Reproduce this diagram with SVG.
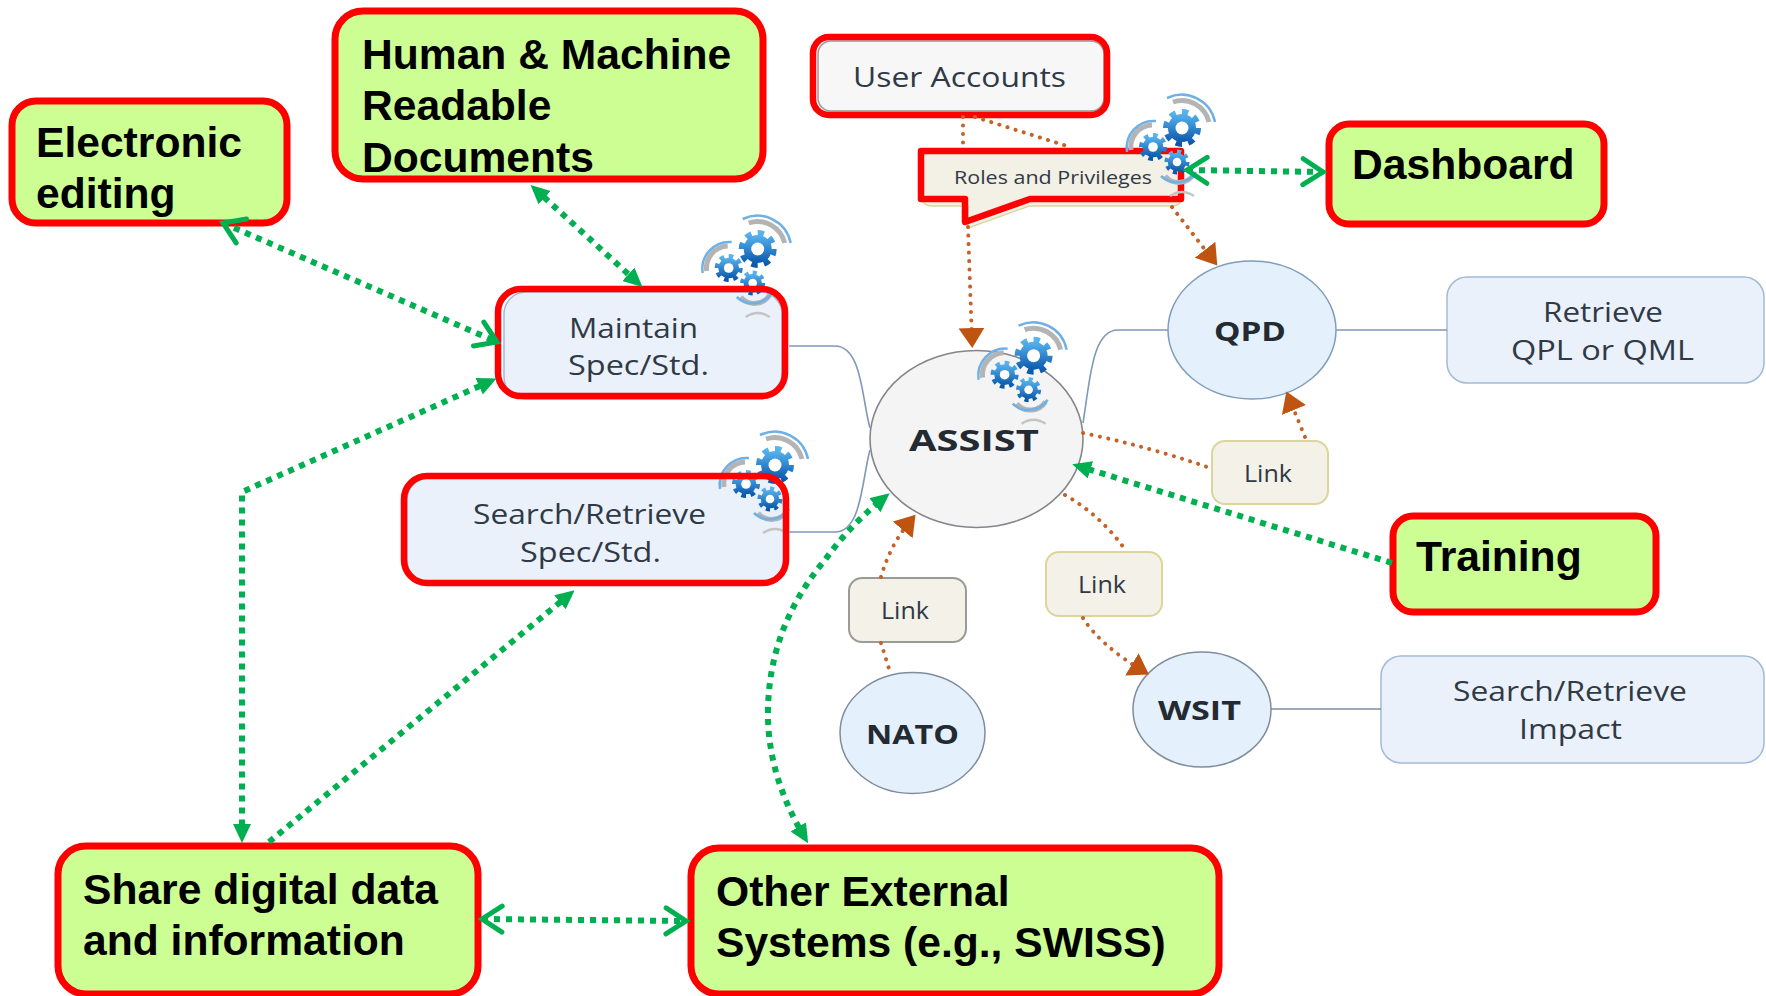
<svg xmlns="http://www.w3.org/2000/svg" width="1766" height="996" viewBox="0 0 1766 996">
<style>
.g{fill:#ccfe93;stroke:#ff0000;stroke-width:7}
.r{fill:none;stroke:#ff0000;stroke-width:6.5}
.b{font:bold 42.6px "Liberation Sans",Arial,sans-serif;fill:#000}
.t{font-family:"Open Sans","Noto Sans",sans-serif;fill:#2f3a46}
.h{font-family:"Open Sans","Noto Sans",sans-serif;font-weight:700;fill:#232a32}
.blue{fill:#eaf1fa;stroke:#a3bad6;stroke-width:1.5}
.circ{fill:#e4f0fc;stroke:#7f8c9c;stroke-width:1.5}
.link{fill:#f3f1e8;stroke:#dcd69b;stroke-width:2}
.wire{fill:none;stroke:#8098ba;stroke-width:1.6}
.dot{fill:none;stroke:#c4622a;stroke-width:4;stroke-linecap:round;stroke-dasharray:.1 8.4}
.grn{fill:none;stroke:#00b050;stroke-width:6;stroke-dasharray:6 6}
.arcb{fill:none;stroke:#6fb0e6;stroke-width:2.5}
.arcg{fill:none;stroke:#b4b4b4;stroke-width:5}
.arcl{fill:none;stroke:#c4c4c4;stroke-width:2.5}
</style>
<defs>
<linearGradient id="gb" x1="0" y1="0" x2="0" y2="1"><stop offset="0" stop-color="#58b4ee"/><stop offset="1" stop-color="#0a58ab"/></linearGradient>
<marker id="gt" markerUnits="userSpaceOnUse" markerWidth="20" markerHeight="20" refX="13" refY="9" orient="auto-start-reverse"><path d="M0,0L19,9L0,18z" fill="#00b050"/></marker>
<marker id="gc" markerUnits="userSpaceOnUse" markerWidth="30" markerHeight="34" refX="23" refY="16" orient="auto-start-reverse"><path d="M3,3L23,16L3,29" fill="none" stroke="#00b050" stroke-width="5" stroke-linecap="round"/></marker>
<marker id="bt" markerUnits="userSpaceOnUse" markerWidth="22" markerHeight="28" refX="13" refY="13" orient="auto"><path d="M0,0L20,13L0,26z" fill="#bf5410"/></marker>
<g id="gears">
<path class="arcg" d="M-9,-26A28,28 0 0 1 27,-6"/>
<path class="arcb" d="M-15,-30A34,34 0 0 1 33,-6"/>
<path class="arcg" d="M-51,22A22,22 0 0 1 -30,-3"/>
<path class="arcb" d="M-55,24A27,27 0 0 1 -26,-7"/>
<path class="arcg" d="M-17,48A18,18 0 0 0 12,46"/>
<path class="arcb" d="M-21,48A23,23 0 0 0 14,44"/>
<path class="arcl" d="M-12,68Q0,60 12,68"/>
<g>
<circle r="14" fill="url(#gb)"/><circle r="15.5" fill="none" stroke="url(#gb)" stroke-width="7" pathLength="16" stroke-dasharray="1 1"/><circle r="6.5" fill="#fff"/>
</g>
<g transform="translate(-29,19) scale(.74)">
<circle r="14" fill="url(#gb)"/><circle r="15.5" fill="none" stroke="url(#gb)" stroke-width="7" pathLength="16" stroke-dasharray="1 1"/><circle r="6.5" fill="#fff"/>
</g>
<g transform="translate(-5,34) scale(.66)">
<circle r="14" fill="url(#gb)"/><circle r="15.5" fill="none" stroke="url(#gb)" stroke-width="7" pathLength="16" stroke-dasharray="1 1"/><circle r="6.5" fill="#fff"/>
</g>
</g>
</defs>
<rect width="1766" height="996" fill="#fff"/>

<g id="node-electronic-editing"><rect class="g" x="12" y="101" width="275" height="122" rx="24"/><text class="b" x="36" y="157">Electronic</text><text class="b" x="36" y="208">editing</text></g>
<g id="node-documents"><rect class="g" x="335" y="11" width="428" height="168" rx="28"/><text class="b" x="362" y="69">Human &amp; Machine</text><text class="b" x="362" y="120">Readable</text><text class="b" x="362" y="172">Documents</text></g>
<g id="node-user-accounts"><rect x="818" y="41" width="286" height="70" rx="13" fill="#f7f7f8" stroke="#9a9a9a" stroke-width="1.5"/><rect class="r" x="813" y="37" width="294" height="78" rx="16"/><text class="t" x="853" y="87" font-size="27" textLength="213" lengthAdjust="spacingAndGlyphs">User Accounts</text></g>
<g id="node-roles"><path d="M930,152H1172Q1182,152 1182,162V196Q1182,206 1172,206H1029L968,228V206H932Q922,206 922,196V160Q922,152 930,152z" fill="#f3f0e6" stroke="#dcd69b" stroke-width="1.5"/><path class="r" d="M921,151H1181V199H1030L965,222V199H921z" stroke-linejoin="round"/><text class="t" x="954" y="184" font-size="19" textLength="198" lengthAdjust="spacingAndGlyphs" fill="#4f4f48">Roles and Privileges</text><use href="#gears" transform="translate(1182,128)"/></g>
<g id="node-dashboard"><rect class="g" x="1329" y="124" width="275" height="100" rx="20"/><text class="b" x="1352" y="179">Dashboard</text></g>
<g id="node-maintain"><rect class="blue" x="504" y="292" width="278" height="107" rx="22"/><use href="#gears" transform="translate(757.7,249)"/><rect class="r" x="498" y="289" width="287" height="107" rx="23"/><text class="t" x="569" y="338" font-size="27" textLength="129" lengthAdjust="spacingAndGlyphs">Maintain</text><text class="t" x="568" y="375" font-size="27" textLength="141" lengthAdjust="spacingAndGlyphs">Spec/Std.</text></g>
<g id="node-search"><rect class="blue" x="407" y="478" width="377" height="104" rx="22"/><use href="#gears" transform="translate(775,465)"/><rect class="r" x="404" y="476" width="382" height="107" rx="23"/><text class="t" x="473" y="524" font-size="27" textLength="233" lengthAdjust="spacingAndGlyphs">Search/Retrieve</text><text class="t" x="520" y="562" font-size="27" textLength="141" lengthAdjust="spacingAndGlyphs">Spec/Std.</text></g>
<g id="node-assist"><ellipse cx="976.5" cy="439" rx="106.5" ry="88.5" fill="#f4f4f5" stroke="#85858a" stroke-width="1.6"/><use href="#gears" transform="translate(1033.6,355.7)"/><text class="h" x="909" y="451" font-size="29" textLength="130" lengthAdjust="spacingAndGlyphs">ASSIST</text></g>
<g id="node-qpd"><ellipse cx="1252" cy="330" rx="84" ry="69" fill="#e4f0fc" stroke="#7f9dbb" stroke-width="1.5"/><text class="h" x="1214" y="341" font-size="27" textLength="72" lengthAdjust="spacingAndGlyphs" fill="#16283a">QPD</text></g>
<g id="node-retrieve-qpl"><rect class="blue" x="1447" y="277" width="317" height="106" rx="20"/><text class="t" x="1543" y="322" font-size="27" textLength="120" lengthAdjust="spacingAndGlyphs">Retrieve</text><text class="t" x="1511" y="360" font-size="27" textLength="183" lengthAdjust="spacingAndGlyphs">QPL or QML</text></g>
<g id="node-link-qpd"><rect class="link" x="1212" y="441" width="116" height="63" rx="13"/><text class="t" x="1244" y="482" font-size="24" textLength="48" lengthAdjust="spacingAndGlyphs">Link</text></g>
<g id="node-link-wsit"><rect class="link" x="1046" y="552" width="116" height="64" rx="13"/><text class="t" x="1078" y="593" font-size="24" textLength="48" lengthAdjust="spacingAndGlyphs">Link</text></g>
<g id="node-link-nato"><rect class="link" style="stroke:#9a9a96" x="849" y="578" width="117" height="64" rx="13"/><text class="t" x="881" y="619" font-size="24" textLength="48" lengthAdjust="spacingAndGlyphs">Link</text></g>
<g id="node-wsit"><ellipse class="circ" cx="1202" cy="709.500" rx="69" ry="57.500"/><text class="h" x="1158" y="720" font-size="27" textLength="83" lengthAdjust="spacingAndGlyphs">WSIT</text></g>
<g id="node-retrieve-impact"><rect class="blue" x="1381" y="656" width="383" height="107" rx="20"/><text class="t" x="1453" y="701" font-size="27" textLength="234" lengthAdjust="spacingAndGlyphs">Search/Retrieve</text><text class="t" x="1519" y="739" font-size="27" textLength="103" lengthAdjust="spacingAndGlyphs">Impact</text></g>
<g id="node-nato"><ellipse class="circ" cx="912.500" cy="733" rx="72.500" ry="60.500"/><text class="h" x="866" y="744" font-size="27" textLength="93" lengthAdjust="spacingAndGlyphs">NATO</text></g>
<g id="node-training"><rect class="g" x="1393" y="516" width="263" height="96" rx="20"/><text class="b" x="1416" y="571">Training</text></g>
<g id="node-share"><rect class="g" x="58" y="846" width="420" height="148" rx="28"/><text class="b" x="83" y="904">Share digital data</text><text class="b" x="83" y="955">and information</text></g>
<g id="node-other"><rect class="g" x="691" y="848" width="528" height="146" rx="28"/><text class="b" x="716" y="906">Other External</text><text class="b" x="716" y="957">Systems (e.g., SWISS)</text></g>

<g id="connectors">
<path class="wire" d="M789,346H835C862,346 862,400 870,428"/>
<path class="wire" d="M789,532H835C862,532 862,478 870,450"/>
<path class="wire" d="M1083,423C1090,380 1092,330 1118,330H1168"/>
<path class="wire" d="M1336,330H1447"/>
<path class="wire" style="stroke:#7f8c9c" d="M1271,709H1381"/>

<path class="dot" d="M963,117V148"/>
<path class="dot" d="M975,117L1070,147"/>
<path class="dot" marker-end="url(#bt)" d="M968,227L972,341"/>
<path class="dot" marker-end="url(#bt)" d="M1172,207L1213,260"/>
<path class="dot" d="M1083,433Q1150,447 1210,468"/>
<path class="dot" marker-end="url(#bt)" d="M1305,437L1289,398"/>
<path class="dot" d="M1065,495Q1100,515 1124,548"/>
<path class="dot" marker-end="url(#bt)" d="M1083,618Q1100,645 1143,671"/>
<path class="dot" d="M881,643L890,672"/>
<path class="dot" marker-end="url(#bt)" d="M881,577Q890,545 911,520"/>

<path class="grn" marker-start="url(#gc)" marker-end="url(#gc)" d="M223,223L497,342"/>
<path class="grn" marker-start="url(#gt)" marker-end="url(#gt)" d="M535,189L638,283"/>
<path class="grn" marker-start="url(#gt)" marker-end="url(#gt)" d="M491,381L242,492V837"/>
<path class="grn" marker-start="url(#gt)" d="M570,594L269,842"/>
<path class="grn" marker-start="url(#gc)" marker-end="url(#gc)" d="M482,919L686,921"/>
<path class="grn" marker-start="url(#gt)" marker-end="url(#gt)" d="M805,838Q770,780 768,720Q766,630 825,560Q850,525 885,497"/>
<path class="grn" marker-end="url(#gt)" d="M1392,563L1078,466"/>
<path class="grn" marker-start="url(#gc)" marker-end="url(#gc)" d="M1187,170L1323,172"/>
</g>
</svg>
